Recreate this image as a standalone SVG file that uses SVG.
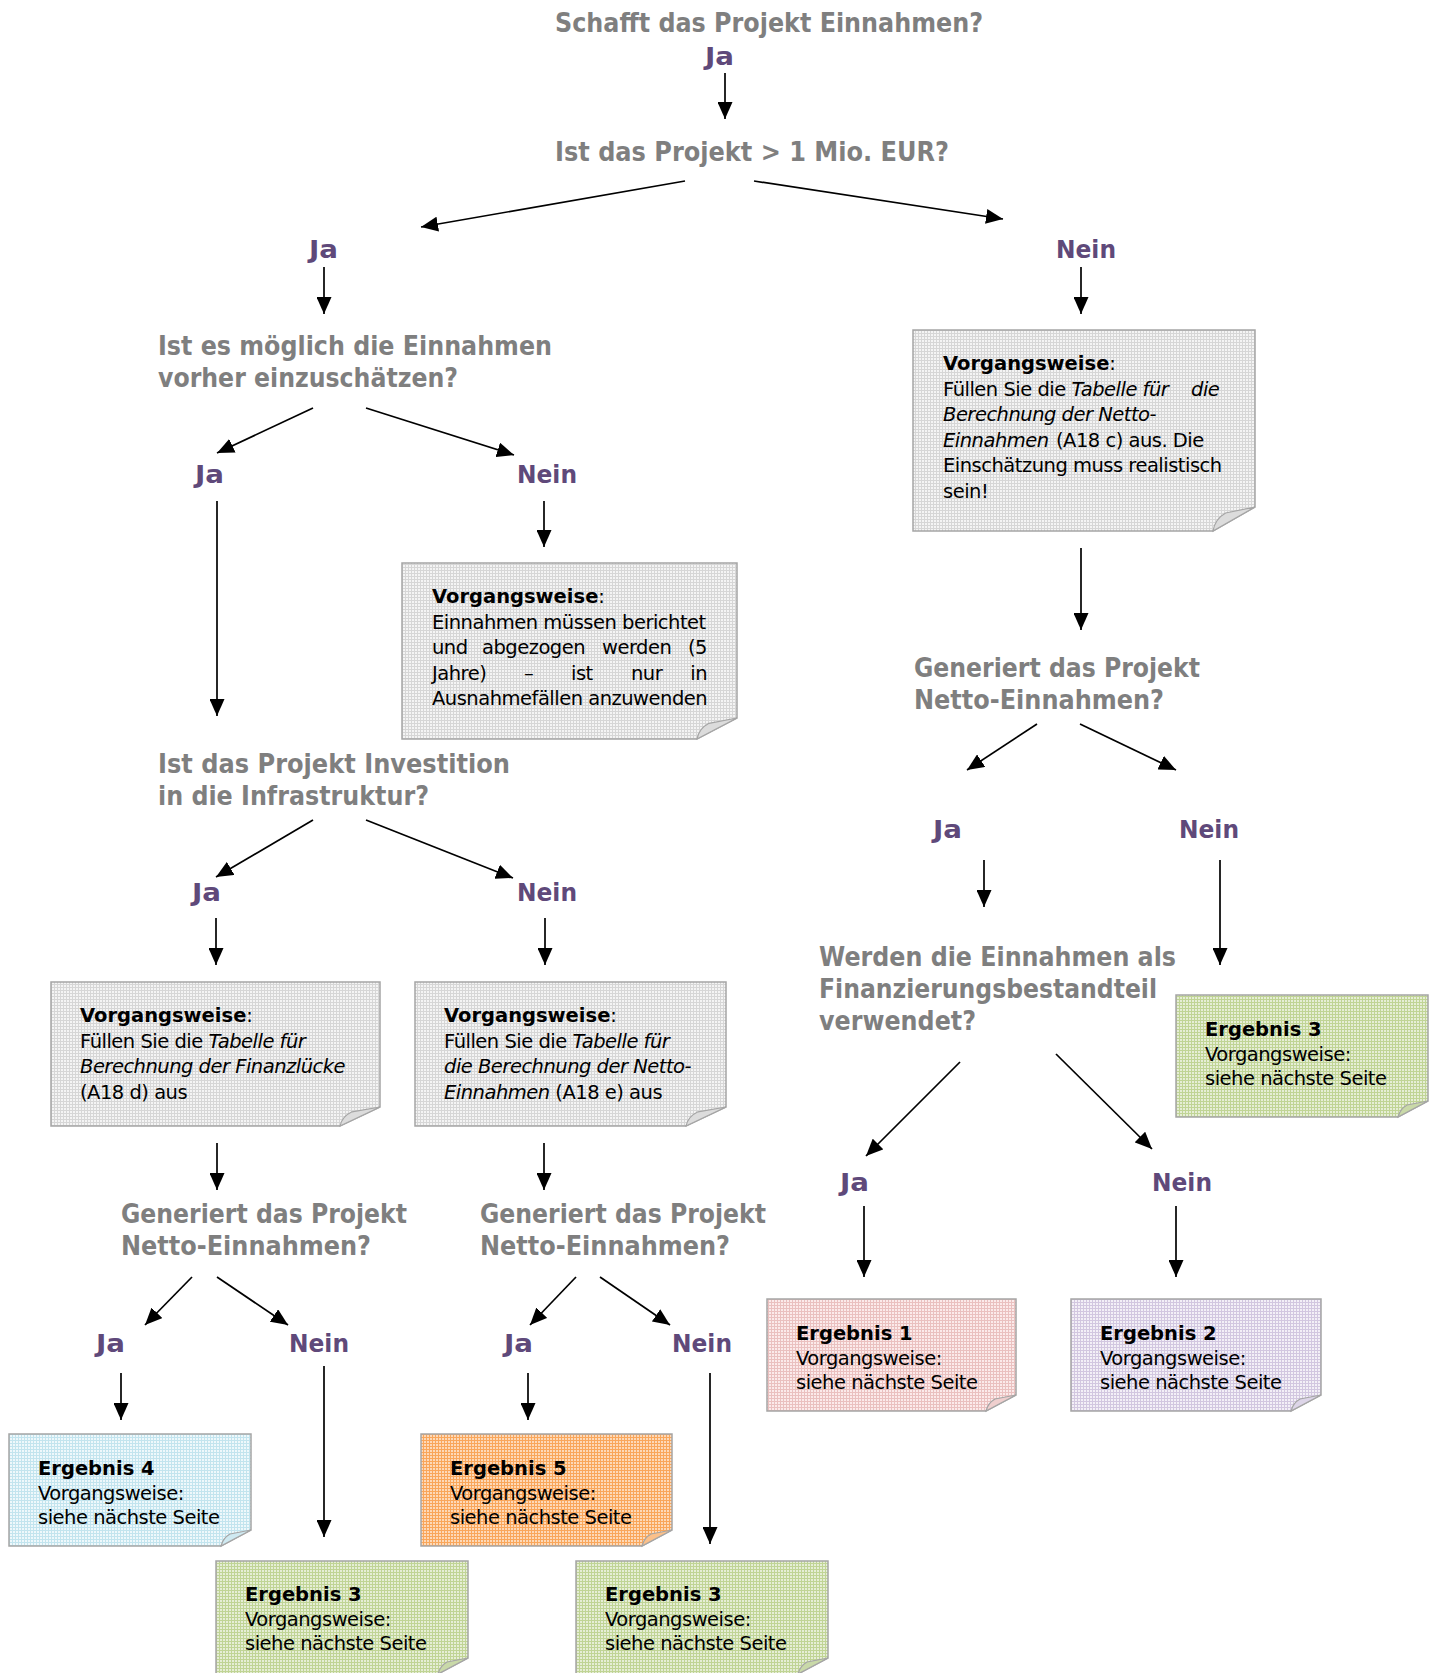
<svg xmlns="http://www.w3.org/2000/svg" width="1434" height="1673" viewBox="0 0 1434 1673">
<style>
.q{font-family:"DejaVu Sans",sans-serif;font-weight:bold;font-size:26px;fill:#7f7f7f}
.l{font-family:"DejaVu Sans",sans-serif;font-weight:bold;font-size:25px;fill:#5f497a}
.t{font-family:"DejaVu Sans",sans-serif;font-size:19.5px;letter-spacing:-0.5px;fill:#000}
.b{font-weight:bold;letter-spacing:0}
.i{font-style:italic}
.bx{stroke:#a5a5a5;stroke-width:1.5}
.fold{stroke:#a5a5a5;stroke-width:1.2}
.cn line{stroke:#000;stroke-width:1.7;marker-end:url(#ah)}
</style>
<defs>
<marker id="ah" markerUnits="userSpaceOnUse" markerWidth="17" markerHeight="15" refX="17" refY="7.5" orient="auto">
<path d="M0,0 L17,7.5 L0,15 Z" fill="#000"/>
</marker>
<pattern id="pg" patternUnits="userSpaceOnUse" width="3" height="3"><rect width="3" height="3" fill="#f4f4f4"/><rect width="3" height="1" fill="#d6d6d6"/><rect width="1" height="3" fill="#d6d6d6"/></pattern>
<pattern id="pgr" patternUnits="userSpaceOnUse" width="3" height="3"><rect width="3" height="3" fill="#e6eed6"/><rect width="3" height="1" fill="#c0d495"/><rect width="1" height="3" fill="#c0d495"/></pattern>
<pattern id="ppk" patternUnits="userSpaceOnUse" width="3" height="3"><rect width="3" height="3" fill="#fbeaea"/><rect width="3" height="1" fill="#eac0bf"/><rect width="1" height="3" fill="#eac0bf"/></pattern>
<pattern id="plv" patternUnits="userSpaceOnUse" width="3" height="3"><rect width="3" height="3" fill="#f3f0f7"/><rect width="3" height="1" fill="#d2c7e0"/><rect width="1" height="3" fill="#d2c7e0"/></pattern>
<pattern id="pbl" patternUnits="userSpaceOnUse" width="3" height="3"><rect width="3" height="3" fill="#eef8fb"/><rect width="3" height="1" fill="#c2e4ee"/><rect width="1" height="3" fill="#c2e4ee"/></pattern>
<pattern id="por" patternUnits="userSpaceOnUse" width="3" height="3"><rect width="3" height="3" fill="#fdd9b8"/><rect width="3" height="1" fill="#f9a65a"/><rect width="1" height="3" fill="#f9a65a"/></pattern>
</defs>
<rect width="1434" height="1673" fill="#fff"/>

<g id="connectors" class="cn">
<line x1="725" y1="73" x2="725" y2="119"/>
<line x1="685" y1="181" x2="421" y2="227"/>
<line x1="754" y1="181" x2="1003" y2="219"/>
<line x1="324" y1="267" x2="324" y2="314"/>
<line x1="1081" y1="267" x2="1081" y2="314"/>
<line x1="313" y1="408" x2="217" y2="453"/>
<line x1="366" y1="408" x2="514" y2="455"/>
<line x1="217" y1="501" x2="217" y2="716"/>
<line x1="544" y1="501" x2="544" y2="547"/>
<line x1="1081" y1="548" x2="1081" y2="630"/>
<line x1="1037" y1="724" x2="967" y2="770"/>
<line x1="1080" y1="724" x2="1176" y2="770"/>
<line x1="984" y1="860" x2="984" y2="907"/>
<line x1="1220" y1="860" x2="1220" y2="965"/>
<line x1="313" y1="820" x2="216" y2="877"/>
<line x1="366" y1="820" x2="513" y2="878"/>
<line x1="216" y1="918" x2="216" y2="965"/>
<line x1="545" y1="918" x2="545" y2="965"/>
<line x1="217" y1="1143" x2="217" y2="1190"/>
<line x1="544" y1="1143" x2="544" y2="1190"/>
<line x1="960" y1="1062" x2="866" y2="1156"/>
<line x1="1056" y1="1054" x2="1152" y2="1149"/>
<line x1="864" y1="1206" x2="864" y2="1277"/>
<line x1="1176" y1="1206" x2="1176" y2="1277"/>
<line x1="192" y1="1277" x2="145" y2="1325"/>
<line x1="217" y1="1277" x2="288" y2="1325"/>
<line x1="576" y1="1277" x2="530" y2="1325"/>
<line x1="600" y1="1277" x2="670" y2="1325"/>
<line x1="121" y1="1373" x2="121" y2="1420"/>
<line x1="324" y1="1366" x2="324" y2="1537"/>
<line x1="528" y1="1373" x2="528" y2="1420"/>
<line x1="710" y1="1373" x2="710" y2="1544"/>
</g>

<g id="q-einnahmen"><text class="q" x="555" y="32" textLength="428" lengthAdjust="spacingAndGlyphs">Schafft das Projekt Einnahmen?</text></g>
<g id="q-1mio"><text class="q" x="555" y="161" textLength="394" lengthAdjust="spacingAndGlyphs">Ist das Projekt &gt; 1 Mio. EUR?</text></g>
<g id="q-vorher">
<text class="q" x="158" y="355" textLength="394" lengthAdjust="spacingAndGlyphs">Ist es möglich die Einnahmen</text>
<text class="q" x="158" y="387" textLength="300" lengthAdjust="spacingAndGlyphs">vorher einzuschätzen?</text>
</g>
<g id="q-infra">
<text class="q" x="158" y="773" textLength="352" lengthAdjust="spacingAndGlyphs">Ist das Projekt Investition</text>
<text class="q" x="158" y="805" textLength="271" lengthAdjust="spacingAndGlyphs">in die Infrastruktur?</text>
</g>
<g id="q-netto-right">
<text class="q" x="914" y="677" textLength="286" lengthAdjust="spacingAndGlyphs">Generiert das Projekt</text>
<text class="q" x="914" y="709" textLength="250" lengthAdjust="spacingAndGlyphs">Netto-Einnahmen?</text>
</g>
<g id="q-finanz">
<text class="q" x="819" y="966" textLength="357" lengthAdjust="spacingAndGlyphs">Werden die Einnahmen als</text>
<text class="q" x="819" y="998" textLength="338" lengthAdjust="spacingAndGlyphs">Finanzierungsbestandteil</text>
<text class="q" x="819" y="1030" textLength="157" lengthAdjust="spacingAndGlyphs">verwendet?</text>
</g>
<g id="q-netto-left">
<text class="q" x="121" y="1223" textLength="286" lengthAdjust="spacingAndGlyphs">Generiert das Projekt</text>
<text class="q" x="121" y="1255" textLength="250" lengthAdjust="spacingAndGlyphs">Netto-Einnahmen?</text>
</g>
<g id="q-netto-mid">
<text class="q" x="480" y="1223" textLength="286" lengthAdjust="spacingAndGlyphs">Generiert das Projekt</text>
<text class="q" x="480" y="1255" textLength="250" lengthAdjust="spacingAndGlyphs">Netto-Einnahmen?</text>
</g>

<g id="labels">
<text class="l" x="705" y="65" textLength="29" lengthAdjust="spacingAndGlyphs">Ja</text>
<text class="l" x="309" y="258" textLength="29" lengthAdjust="spacingAndGlyphs">Ja</text>
<text class="l" x="1056" y="258" textLength="60" lengthAdjust="spacingAndGlyphs">Nein</text>
<text class="l" x="195" y="483" textLength="29" lengthAdjust="spacingAndGlyphs">Ja</text>
<text class="l" x="517" y="483" textLength="60" lengthAdjust="spacingAndGlyphs">Nein</text>
<text class="l" x="192" y="901" textLength="29" lengthAdjust="spacingAndGlyphs">Ja</text>
<text class="l" x="517" y="901" textLength="60" lengthAdjust="spacingAndGlyphs">Nein</text>
<text class="l" x="933" y="838" textLength="29" lengthAdjust="spacingAndGlyphs">Ja</text>
<text class="l" x="1179" y="838" textLength="60" lengthAdjust="spacingAndGlyphs">Nein</text>
<text class="l" x="840" y="1191" textLength="29" lengthAdjust="spacingAndGlyphs">Ja</text>
<text class="l" x="1152" y="1191" textLength="60" lengthAdjust="spacingAndGlyphs">Nein</text>
<text class="l" x="96" y="1352" textLength="29" lengthAdjust="spacingAndGlyphs">Ja</text>
<text class="l" x="289" y="1352" textLength="60" lengthAdjust="spacingAndGlyphs">Nein</text>
<text class="l" x="504" y="1352" textLength="29" lengthAdjust="spacingAndGlyphs">Ja</text>
<text class="l" x="672" y="1352" textLength="60" lengthAdjust="spacingAndGlyphs">Nein</text>
</g>

<g id="box-a18c">
<path class="bx" fill="url(#pg)" d="M913 330 H1255 V507 L1213 531 H913 Z"/>
<path class="fold" fill="#dcdcdc" d="M1213 531 Q1215 519 1225.6 513 L1255 507 Z"/>
<text class="t" x="943" y="370"><tspan class="b">Vorgangsweise</tspan>:</text>
<text class="t" x="943" y="395.5">Füllen Sie die <tspan class="i">Tabelle für</tspan> <tspan class="i" x="1191">die</tspan></text>
<text class="t i" x="943" y="421">Berechnung der Netto-</text>
<text class="t" x="943" y="446.5"><tspan class="i">Einnahmen</tspan> <tspan x="1056">(A18 c) aus. Die</tspan></text>
<text class="t" x="943" y="472">Einschätzung muss realistisch</text>
<text class="t" x="943" y="497.5">sein!</text>
</g>

<g id="box-ausnahme">
<path class="bx" fill="url(#pg)" d="M402 563 H737 V718 L697 739 H402 Z"/>
<path class="fold" fill="#dcdcdc" d="M697 739 Q699 728.5 709 723.3 L737 718 Z"/>
<text class="t" x="432" y="603"><tspan class="b">Vorgangsweise</tspan>:</text>
<text class="t" x="432" y="628.5">Einnahmen müssen berichtet</text>
<text class="t" y="654"><tspan x="432">und</tspan><tspan x="482">abgezogen</tspan><tspan x="602">werden</tspan><tspan x="707" text-anchor="end">(5</tspan></text>
<text class="t" y="679.5"><tspan x="432">Jahre)</tspan><tspan x="524">–</tspan><tspan x="571">ist</tspan><tspan x="631">nur</tspan><tspan x="707" text-anchor="end">in</tspan></text>
<text class="t" x="432" y="705">Ausnahmefällen anzuwenden</text>
</g>

<g id="box-a18d">
<path class="bx" fill="url(#pg)" d="M51 982 H380 V1107 L340 1126 H51 Z"/>
<path class="fold" fill="#dcdcdc" d="M340 1126 Q342 1116.5 352 1111.8 L380 1107 Z"/>
<text class="t" x="80" y="1022"><tspan class="b">Vorgangsweise</tspan>:</text>
<text class="t" x="80" y="1047.5">Füllen Sie die <tspan class="i">Tabelle für</tspan></text>
<text class="t i" x="80" y="1073">Berechnung der Finanzlücke</text>
<text class="t" x="80" y="1098.5">(A18 d) aus</text>
</g>

<g id="box-a18e">
<path class="bx" fill="url(#pg)" d="M415 982 H726 V1107 L686 1126 H415 Z"/>
<path class="fold" fill="#dcdcdc" d="M686 1126 Q688 1116.5 698 1111.8 L726 1107 Z"/>
<text class="t" x="444" y="1022"><tspan class="b">Vorgangsweise</tspan>:</text>
<text class="t" x="444" y="1047.5">Füllen Sie die <tspan class="i">Tabelle für</tspan></text>
<text class="t i" x="444" y="1073">die Berechnung der Netto-</text>
<text class="t" x="444" y="1098.5"><tspan class="i">Einnahmen</tspan> (A18 e) aus</text>
</g>

<g id="ergebnis3-right">
<path class="bx" fill="url(#pgr)" d="M1176 995 H1428 V1101 L1398 1117 H1176 Z"/>
<path class="fold" fill="#c9d9a8" d="M1398 1117 Q1400 1109 1407 1105 L1428 1101 Z"/>
<text class="t b" x="1205" y="1036">Ergebnis 3</text>
<text class="t" x="1205" y="1060.5">Vorgangsweise:</text>
<text class="t" x="1205" y="1085">siehe nächste Seite</text>
</g>

<g id="ergebnis1">
<path class="bx" fill="url(#ppk)" d="M767 1299 H1016 V1395 L986 1411 H767 Z"/>
<path class="fold" fill="#efcfce" d="M986 1411 Q988 1403 995 1399 L1016 1395 Z"/>
<text class="t b" x="796" y="1340">Ergebnis 1</text>
<text class="t" x="796" y="1364.5">Vorgangsweise:</text>
<text class="t" x="796" y="1389">siehe nächste Seite</text>
</g>

<g id="ergebnis2">
<path class="bx" fill="url(#plv)" d="M1071 1299 H1321 V1395 L1291 1411 H1071 Z"/>
<path class="fold" fill="#ddd5e8" d="M1291 1411 Q1293 1403 1300 1399 L1321 1395 Z"/>
<text class="t b" x="1100" y="1340">Ergebnis 2</text>
<text class="t" x="1100" y="1364.5">Vorgangsweise:</text>
<text class="t" x="1100" y="1389">siehe nächste Seite</text>
</g>

<g id="ergebnis4">
<path class="bx" fill="url(#pbl)" d="M9 1434 H251 V1530 L221 1546 H9 Z"/>
<path class="fold" fill="#cfe9f1" d="M221 1546 Q223 1538 230 1534 L251 1530 Z"/>
<text class="t b" x="38" y="1475">Ergebnis 4</text>
<text class="t" x="38" y="1499.5">Vorgangsweise:</text>
<text class="t" x="38" y="1524">siehe nächste Seite</text>
</g>

<g id="ergebnis5">
<path class="bx" fill="url(#por)" d="M421 1434 H672 V1530 L642 1546 H421 Z"/>
<path class="fold" fill="#fbc08a" d="M642 1546 Q644 1538 651 1534 L672 1530 Z"/>
<text class="t b" x="450" y="1475">Ergebnis 5</text>
<text class="t" x="450" y="1499.5">Vorgangsweise:</text>
<text class="t" x="450" y="1524">siehe nächste Seite</text>
</g>

<g id="ergebnis3-left">
<path class="bx" fill="url(#pgr)" d="M216 1561 H468 V1658 L438 1674 H216 Z"/>
<path class="fold" fill="#c9d9a8" d="M438 1674 Q440 1666 447 1662 L468 1658 Z"/>
<text class="t b" x="245" y="1601">Ergebnis 3</text>
<text class="t" x="245" y="1625.5">Vorgangsweise:</text>
<text class="t" x="245" y="1650">siehe nächste Seite</text>
</g>

<g id="ergebnis3-mid">
<path class="bx" fill="url(#pgr)" d="M576 1561 H828 V1658 L798 1674 H576 Z"/>
<path class="fold" fill="#c9d9a8" d="M798 1674 Q800 1666 807 1662 L828 1658 Z"/>
<text class="t b" x="605" y="1601">Ergebnis 3</text>
<text class="t" x="605" y="1625.5">Vorgangsweise:</text>
<text class="t" x="605" y="1650">siehe nächste Seite</text>
</g>
</svg>
